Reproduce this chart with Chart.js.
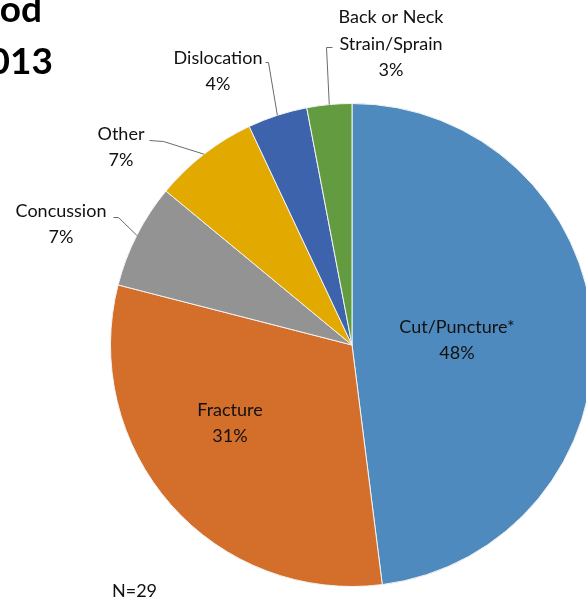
<!DOCTYPE html>
<html>
<head>
<meta charset="utf-8">
<script src="https://cdn.jsdelivr.net/npm/chart.js@4/dist/chart.umd.min.js"></script>
<style>
  html, body { margin: 0; padding: 0; background: #fff; overflow: hidden; }
  #wrap { position: relative; width: 586px; height: 602px; overflow: hidden; }
  #c { position: absolute; left: 0; top: 0; }
</style>
</head>
<body>
<div id="wrap"><canvas id="c" width="704" height="602"></canvas></div>
<script>
// Injury categories (clockwise from 12 o'clock) and their share of cases in percent
const categories = [
  ["Cut/Puncture*"],
  ["Fracture"],
  ["Concussion"],
  ["Other"],
  ["Dislocation"],
  ["Back or Neck", "Strain/Sprain"]
];
const percents = [48, 31, 7, 7, 4, 3];
const sliceColors = ["#4F8ABE", "#D36E2B", "#939393", "#E2AA00", "#3C63AB", "#629B40"];
const titleLines = ["od", "2013"];
const footnote = "N=29";

// Label placement relative to pie centre; outside labels get a leader line
const labelLayout = [
  { dx: 105, dy: -5 },
  { dx: -122, dy: 78 },
  { dx: -291, dy: -121, leader: [[-239, -128], [-234, -128]] },
  { dx: -231, dy: -198, leader: [[-203, -205], [-189, -204]] },
  { dx: -134, dy: -274, leader: [[-87, -283], [-84, -283]] },
  { dx: 39, dy: -301, leader: [[-20, -298], [-26, -298]] }
];

const FONT = "Lato, 'Open Sans', sans-serif";

const labelPlugin = {
  id: 'sliceLabels',
  afterDatasetsDraw(chart) {
    const ctx = chart.ctx;
    const arcs = chart.getDatasetMeta(0).data;
    ctx.save();
    arcs.forEach((arc, i) => {
      const cx = arc.x, cy = arc.y;
      const L = labelLayout[i];
      const lines = categories[i].concat([percents[i] + "%"]);
      if (L.leader) {
        const mid = (arc.startAngle + arc.endAngle) / 2;
        const ex = cx + Math.cos(mid) * arc.outerRadius;
        const ey = cy + Math.sin(mid) * arc.outerRadius;
        ctx.strokeStyle = "#6b6b6b";
        ctx.lineWidth = 1;
        ctx.beginPath();
        ctx.moveTo(cx + L.leader[0][0] + 0.5, cy + L.leader[0][1] + 0.5);
        ctx.lineTo(cx + L.leader[1][0] + 0.5, cy + L.leader[1][1] + 0.5);
        ctx.lineTo(ex, ey);
        ctx.stroke();
      }
      ctx.fillStyle = "#111";
      ctx.font = "18px " + FONT;
      ctx.textAlign = "center";
      ctx.textBaseline = "middle";
      const lh = 26.5;
      const y0 = cy + L.dy - (lines.length - 1) * lh / 2;
      lines.forEach((t, k) => ctx.fillText(t, cx + L.dx, y0 + k * lh));
    });
    // partial title at the top-left and the sample size note
    ctx.fillStyle = "#000";
    ctx.font = "bold 37px " + FONT;
    ctx.textAlign = "right";
    ctx.textBaseline = "alphabetic";
    ctx.fillText(titleLines[0], 42, 22);
    ctx.fillText(titleLines[1], 53, 74);
    ctx.font = "18px " + FONT;
    ctx.textAlign = "left";
    ctx.fillStyle = "#111";
    ctx.textBaseline = "middle";
    ctx.fillText(footnote, 112, 591);
    ctx.restore();
  }
};

new Chart(document.getElementById('c'), {
  type: 'pie',
  data: {
    labels: categories.map(c => c.join(' ')),
    datasets: [{
      data: percents,
      backgroundColor: sliceColors,
      borderColor: "#f2f2f2",
      borderWidth: 1
    }]
  },
  options: {
    responsive: false,
    animation: false,
    devicePixelRatio: 1,
    layout: { padding: { left: 110, right: 110, top: 103, bottom: 15 } },
    plugins: { legend: { display: false }, tooltip: { enabled: false }, title: { display: false } }
  },
  plugins: [labelPlugin]
});
</script>
</body>
</html>
